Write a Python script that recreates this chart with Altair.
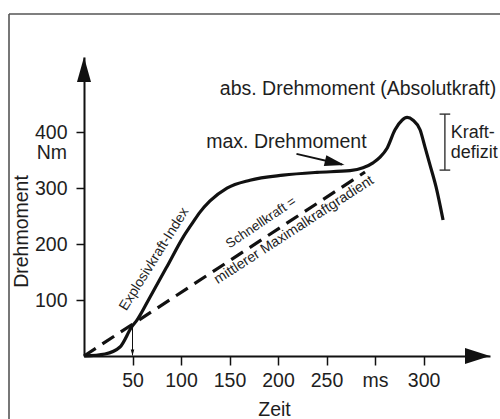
import altair as alt
import pandas as pd

# Drehmoment-Zeit-Kurve (Zeit in ms, Drehmoment in Nm)
zeit = [0, 21.6, 37.1, 49.2, 54.6, 68, 85.3, 102.1, 112.4, 119.6, 129.9,
        147.4, 171.1, 205.2, 240.2, 274.2, 287.6, 297.9, 305.2, 312.4, 320.6,
        327.8, 333, 339.2, 346.4, 351.5, 356.7, 362.9, 370.1]
drehmoment = [0, 3.6, 16, 52, 64, 105, 159, 212, 239, 257, 277,
              300, 314, 323, 328, 331, 336, 345, 355, 371, 404,
              421, 426, 421, 404, 373, 341, 302, 243]

# Schnellkraft = mittlerer Maximalkraftgradient (Gerade ab Ursprung)
gradient_zeit = [0, 289.7]
gradient_moment = [0, 328.6]

# Achsen
x_ticks = [50, 100, 150, 200, 250, 300, 350]
x_tick_labels = ["50", "100", "150", "200", "250", "ms", "300"]
y_ticks = [100, 200, 300, 400]

# Kennwerte
index_zeit = 50          # Explosivkraft-Index
index_moment = 54
max_moment = 332         # max. Drehmoment (Plateau)
abs_moment = 432         # abs. Drehmoment (Oberkante Kraftdefizit)
defizit_zeit = 372

FONT = "Liberation Sans"
FS = 19.5
INK = "#111111"
TXT = "#1e1e1e"

X_SCALE = alt.Scale(domain=[0, 418.5], nice=False, zero=False)
Y_SCALE = alt.Scale(domain=[0, 534], nice=False, zero=False)

label_expr = "".join(
    f"datum.value == {v} ? '{l}' : " for v, l in zip(x_ticks, x_tick_labels)
) + "datum.label"

x_axis = alt.Axis(
    values=x_ticks, labelExpr=label_expr, title="Zeit", grid=False,
    domainColor=INK, domainWidth=2, tickColor=INK, tickWidth=1.5, tickSize=9,
    labelFont=FONT, labelFontSize=FS, labelColor=TXT, labelPadding=6,
    labelFlush=False, labelOverlap=False,
    titleFont=FONT, titleFontSize=FS, titleFontWeight="normal", titleColor=TXT,
    titleX=190, titleY=53, titleBaseline="middle", titleAlign="center",
)
y_axis = alt.Axis(
    values=y_ticks, title="Drehmoment", grid=False,
    domainColor=INK, domainWidth=2, tickColor=INK, tickWidth=1.5, tickSize=8,
    labelFont=FONT, labelFontSize=FS, labelColor=TXT, labelPadding=9,
    labelFlush=False, labelOverlap=False,
    titleFont=FONT, titleFontSize=FS, titleFontWeight="normal", titleColor=TXT,
    titleX=-63, titleY=174, titleAngle=270, titleBaseline="middle",
    titleAlign="center",
)


def xq(field="zeit"):
    return alt.X(f"{field}:Q", scale=X_SCALE, axis=x_axis)


def yq(field="moment"):
    return alt.Y(f"{field}:Q", scale=Y_SCALE, axis=y_axis)


curve_df = pd.DataFrame({"zeit": zeit, "moment": drehmoment})
grad_df = pd.DataFrame({"zeit": gradient_zeit, "moment": gradient_moment})

curve = alt.Chart(curve_df).mark_line(
    color=INK, strokeWidth=3.2, interpolate="monotone"
).encode(x=xq(), y=yq())

gradient = alt.Chart(grad_df).mark_line(
    color=INK, strokeWidth=3.2, strokeDash=[14, 8], strokeCap="butt"
).encode(x=xq(), y=yq())

# Pfeilspitzen der Achsen
y_head = alt.Chart(pd.DataFrame({"zeit": [0], "moment": [534]})).mark_point(
    shape="M0,0L0.56,2L-0.56,2Z", size=625, filled=True, opacity=1,
    color=INK, strokeWidth=0
).encode(x=xq(), y=yq())
x_head = alt.Chart(pd.DataFrame({"zeit": [418.5], "moment": [0]})).mark_point(
    shape="M0,0L-2,-0.64L-2,0.64Z", size=625, filled=True, opacity=1,
    color=INK, strokeWidth=0
).encode(x=xq(), y=yq())

# Markierung des Explosivkraft-Index bei 50 ms
idx_df = pd.DataFrame({"zeit": [index_zeit], "moment": [index_moment],
                       "moment2": [1]})
idx_rule = alt.Chart(idx_df).mark_rule(color=INK, strokeWidth=1).encode(
    x=xq(), y=yq(), y2="moment2:Q"
)
idx_head = alt.Chart(pd.DataFrame({"zeit": [index_zeit], "moment": [1]})).mark_point(
    shape="M0,0L0.6,-2L-0.6,-2Z", size=36, filled=True, opacity=1,
    color=INK, strokeWidth=0
).encode(x=xq(), y=yq())

# Pfeil zum max. Drehmoment
arr_df = pd.DataFrame({"zeit": [219, 266], "moment": [361, 342]})
arr_line = alt.Chart(arr_df).mark_line(color=INK, strokeWidth=2).encode(
    x=xq(), y=yq()
)
arr_head = alt.Chart(pd.DataFrame({"zeit": [268.6], "moment": [341]})).mark_point(
    shape="M0,0L-2,-0.55L-2,0.55Z", size=400, filled=True, opacity=1,
    color=INK, strokeWidth=0, angle=13
).encode(x=xq(), y=yq())

# Klammer Kraftdefizit
br_v = alt.Chart(pd.DataFrame({"zeit": [defizit_zeit], "moment": [max_moment],
                               "moment2": [abs_moment]})).mark_rule(
    color="#333333", strokeWidth=1.4
).encode(x=xq(), y=yq(), y2="moment2:Q")
br_h = alt.Chart(pd.DataFrame({"zeit": [defizit_zeit - 5.5] * 2,
                               "zeit2": [defizit_zeit + 5.5] * 2,
                               "moment": [max_moment, abs_moment]})).mark_rule(
    color="#333333", strokeWidth=1.4
).encode(x=xq(), x2="zeit2:Q", y=yq())


def note(text, zx, my, size=FS, align="left", angle=0):
    df = pd.DataFrame({"zeit": [zx], "moment": [my], "t": [text]})
    props = dict(font=FONT, fontSize=size, color=TXT, align=align,
                 baseline="middle")
    if angle:
        props["angle"] = angle
    return alt.Chart(df).mark_text(**props).encode(x=xq(), y=yq(), text="t:N")


notes = [
    note("abs. Drehmoment (Absolutkraft)", 140, 477),
    note("max. Drehmoment", 126, 382),
    note("Kraft-", 378, 398, size=18),
    note("defizit", 378, 362, size=18),
    note("Nm", -17.5, 362, align="right"),
    note("Explosivkraft-Index", 72.4, 173, size=14, align="center", angle=302),
    note("Schnellkraft =", 182.5, 238, size=13.4, align="center", angle=326),
    note("mittlerer Maximalkraftgradient", 216.5, 225, size=14.2,
         align="center", angle=327),
]

# Rahmen
frame_top = alt.Chart(pd.DataFrame({"a": [0]})).mark_rule(
    color="#555555", strokeWidth=1.6
).encode(x=alt.value(-75), x2=alt.value(420), y=alt.value(-43))
frame_left = alt.Chart(pd.DataFrame({"a": [0]})).mark_rule(
    color="#555555", strokeWidth=1.6
).encode(x=alt.value(-75), y=alt.value(-43), y2=alt.value(370))

chart = alt.layer(
    curve, gradient, y_head, x_head, idx_rule, idx_head, arr_line, arr_head,
    br_v, br_h, *notes, frame_top, frame_left
).properties(
    width=406, height=299,
    padding={"left": 84, "top": 57, "right": 10, "bottom": 63},
    autosize=alt.AutoSizeParams(type="none"),
    background="white",
).configure_view(stroke=None)

chart.save("out.html", embed_options={"renderer": "svg", "actions": False})
